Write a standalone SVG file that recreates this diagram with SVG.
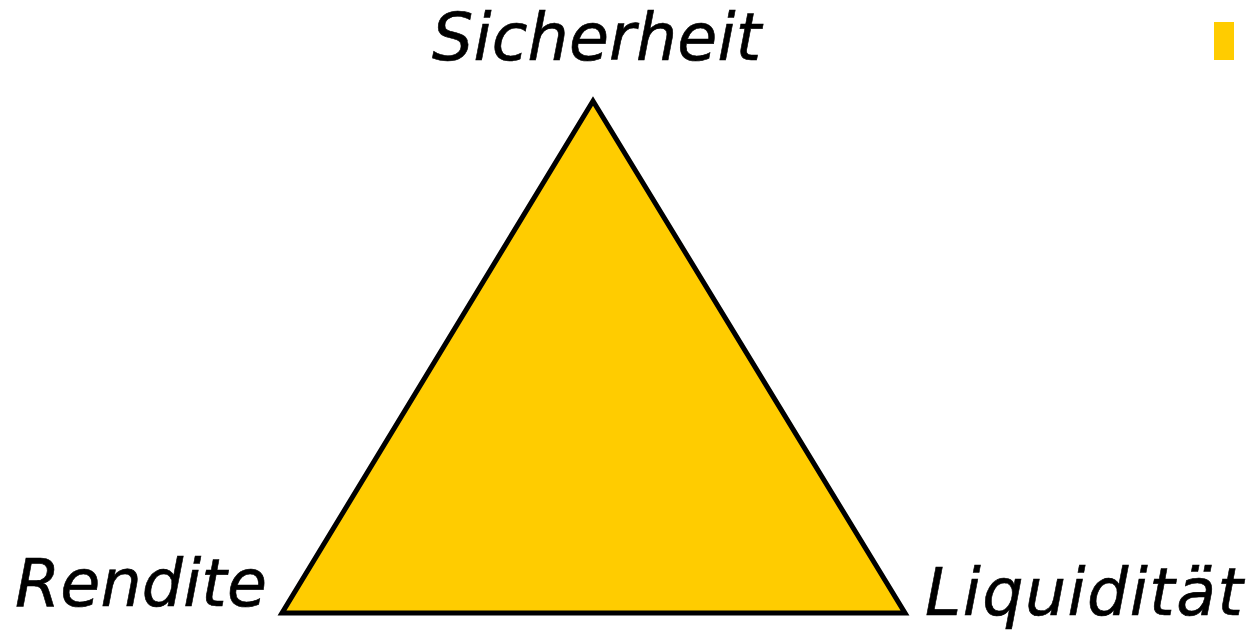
<svg xmlns="http://www.w3.org/2000/svg" width="1254" height="631" viewBox="0 0 1254 631">
<style>
.lbl{font-family:"DejaVu Sans",sans-serif;font-style:oblique;font-size:65px;fill:#000;stroke:#000;stroke-width:0.6px}
</style>
<rect width="1254" height="631" fill="#fff"/>
<g id="triangle"><polygon points="593,101 282,613 905,613" fill="#FFCC00" stroke="#000" stroke-width="5" stroke-linejoin="miter"/></g>
<g id="marker-rect"><rect x="1214" y="22" width="20" height="38" fill="#FFCC00"/></g>
<g id="label-sicherheit"><text class="lbl" x="432" y="60" letter-spacing="0.8" textLength="330" lengthAdjust="spacing">Sicherheit</text></g>
<g id="label-rendite"><text class="lbl" x="15" y="606" textLength="252" lengthAdjust="spacing">Rendite</text></g>
<g id="label-liquiditaet"><text class="lbl" x="925" y="615" textLength="318" lengthAdjust="spacing">Liquidität</text></g>
<g id="connectors"></g>
</svg>
